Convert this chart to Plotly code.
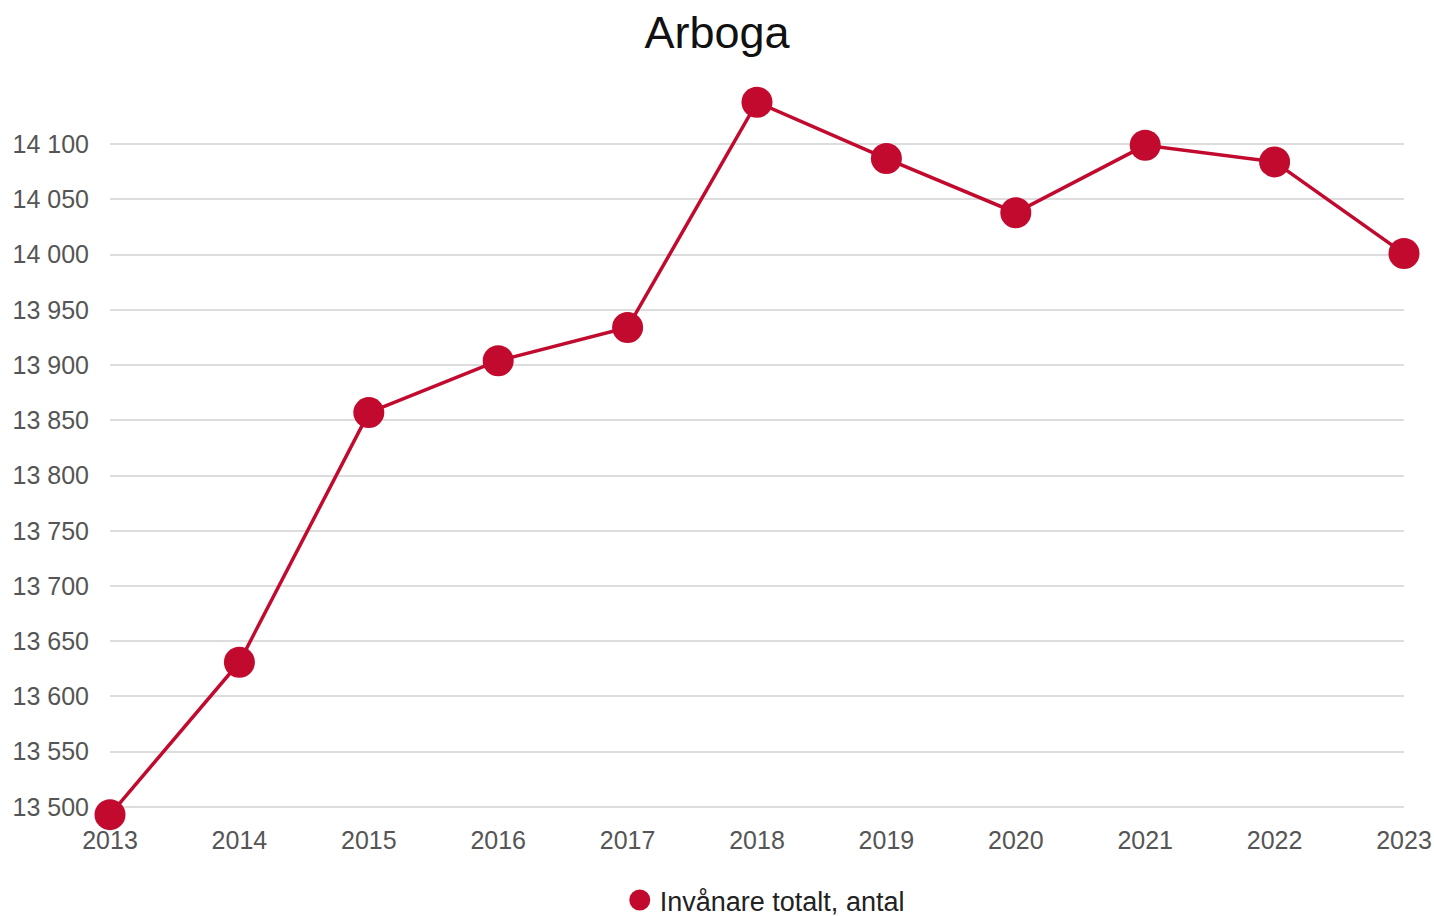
import plotly.graph_objects as go

years = [2013, 2014, 2015, 2016, 2017, 2018, 2019, 2020, 2021, 2022, 2023]
invanare = [13493, 13631, 13857, 13904, 13934, 14138, 14087, 14038, 14099, 14084, 14001]
series_name = "Invånare totalt, antal"
title = "Arboga"
y_ticks = [13500, 13550, 13600, 13650, 13700, 13750, 13800, 13850, 13900, 13950, 14000, 14050, 14100]

color = "#C20A2E"
font_family = "Liberation Sans, Arial, sans-serif"

fig = go.Figure()
fig.add_trace(go.Scatter(
    x=years, y=invanare, name=series_name, mode="lines+markers",
    line=dict(color=color, width=3.5),
    marker=dict(color=color, size=31),
    cliponaxis=False, showlegend=False,
))
# legend entry: circle only
fig.add_trace(go.Scatter(
    x=[None], y=[None], name=series_name, mode="markers",
    marker=dict(color=color, size=26, line=dict(color=color, width=6)), showlegend=True,
))

fig.update_layout(
    width=1434, height=916,
    paper_bgcolor="white", plot_bgcolor="white",
    separators=", ",
    font=dict(family=font_family, color="#555555", size=25),
    title=dict(text=title, x=0.5, xanchor="center", y=0.965, yanchor="middle",
               font=dict(size=45, color="#111111", family=font_family)),
    margin=dict(l=110, r=30, t=89, b=87),
    showlegend=True,
    legend=dict(orientation="h", x=0.506, xanchor="center", yref="container",
                y=0.017, yanchor="middle",
                font=dict(size=27, color="#222222"), itemsizing="trace"),
)
fig.update_xaxes(range=[2013, 2023], tickvals=years, showgrid=False, zeroline=False,
                 showline=False, ticks="", ticklabelstandoff=-6, automargin=False,
                 tickfont=dict(size=25, color="#555555"))
fig.update_yaxes(range=[13480, 14150], tickvals=y_ticks, tickformat=",d",
                 showgrid=True, gridcolor="#DDDDDD", gridwidth=1.5, zeroline=False,
                 showline=False, ticks="", ticklabelstandoff=20, automargin=False,
                 tickfont=dict(size=25, color="#555555"))

fig.write_html("out.html", config={"displayModeBar": False},
               post_script="document.body.style.margin='0';document.body.style.overflow='hidden';")
